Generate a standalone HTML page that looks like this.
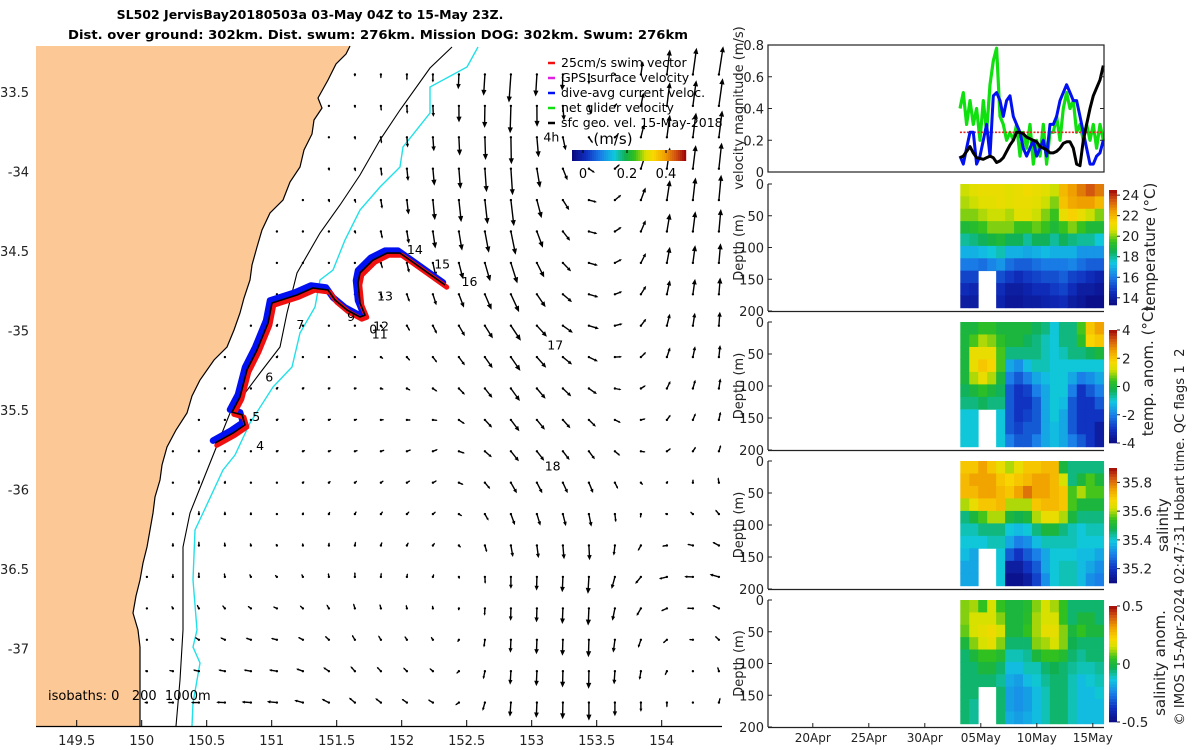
<!DOCTYPE html>
<html><head><meta charset="utf-8">
<style>
html,body{margin:0;padding:0;background:#fff;}
svg{display:block;font-family:"DejaVu Sans","Liberation Sans",sans-serif;}
</style></head>
<body>
<svg id="fig" xmlns="http://www.w3.org/2000/svg" width="1200" height="750" viewBox="0 0 1200 750">
<g font-weight="bold" font-size="12.5" text-anchor="middle" fill="#000">
<text x="310" y="19">SL502 JervisBay20180503a 03-May 04Z to 15-May 23Z.</text>
<text x="378" y="39" textLength="620" lengthAdjust="spacingAndGlyphs">Dist. over ground: 302km. Dist. swum: 276km. Mission DOG: 302km. Swum: 276km</text>
</g>
<g id="map"></g>
<g id="right"></g>
</svg>
<script>
// ---------------- DATA ----------------
const trackLon=[150.564,150.702,150.795,150.772,150.695,150.756,150.810,150.887,150.972,151.002,151.195,151.317,151.433,151.487,151.579,151.679,151.718,151.679,151.664,151.679,151.779,151.887,151.987,152.064,152.333];
const trackLat=[-35.708,-35.645,-35.594,-35.531,-35.513,-35.418,-35.248,-35.123,-34.953,-34.827,-34.777,-34.733,-34.745,-34.808,-34.871,-34.915,-34.903,-34.827,-34.701,-34.638,-34.557,-34.513,-34.513,-34.557,-34.714];
const dayLabels=["4","5","6","7","9","0","12","11","13","14","15","16","17","18","4h"];
const dayLabelLon=[150.88,150.85,150.95,151.19,151.58,151.75,151.78,151.77,151.81,152.04,152.25,152.46,153.12,153.10,153.09];
const dayLabelLat=[-35.75,-35.57,-35.32,-34.99,-34.94,-35.02,-35.00,-35.05,-34.81,-34.52,-34.61,-34.72,-35.12,-35.88,-33.81];
// coarse current field (cm/s), rows north->south, cols west->east
const fieldLon=[149.24,149.84,150.43,151.03,151.62,152.22,152.81,153.41,154.00,154.60];
const fieldLat=[-33.39,-34.18,-34.97,-35.76,-36.55,-37.34];
const fieldU=[
[0,0,0,0,0,0,-2,0,3,5],
[0,0,0,0,1,2,3,8,3,2],
[0,0,0,1,1,4,10,10,3,0],
[0,0,0,2,3,5,8,6,4,1],
[0,0,0,-2,0,1,0,-1,-8,-10],
[0,0,-8,-10,-6,-5,-1,0,0,2]];
const fieldV=[
[0,0,0,0,-2,-8,-28,-10,25,30],
[0,0,0,-1,-3,-20,-26,-2,20,28],
[0,0,0,2,0,-8,-15,-3,12,15],
[0,0,2,1,1,2,-10,-8,3,8],
[0,0,5,2,5,3,-12,-17,-2,5],
[0,0,0,1,5,3,-14,-18,-5,10]];
// velocity time series (m/s); time in May-days (1 = 01-May 00Z)
const velStart=3.14, velStep=0.2976;
const netGlider=[0.4,0.5,0.3,0.45,0.3,0.4,0.2,0.45,0.25,0.55,0.7,0.78,0.35,0.3,0.2,0.25,0.2,0.3,0.1,0.25,0.15,0.3,0.05,0.2,0.1,0.3,0.05,0.25,0.25,0.35,0.2,0.4,0.5,0.4,0.45,0.25,0.3,0.2,0.3,0.2,0.3,0.15,0.3,0.2];
const diveAvg=[0.1,0.05,0.15,0.25,0.25,0.05,0.1,0.2,0.3,0.1,0.48,0.5,0.45,0.35,0.45,0.48,0.35,0.3,0.25,0.15,0.1,0.15,0.2,0.1,0.15,0.2,0.1,0.3,0.3,0.35,0.45,0.5,0.55,0.5,0.45,0.45,0.35,0.25,0.15,0.05,0.05,0.1,0.12,0.2];
const sfcGeo=[0.09,0.1,0.13,0.16,0.12,0.09,0.085,0.08,0.09,0.1,0.09,0.06,0.07,0.09,0.13,0.17,0.2,0.25,0.25,0.24,0.22,0.21,0.2,0.19,0.16,0.15,0.14,0.12,0.12,0.13,0.15,0.18,0.19,0.19,0.15,0.05,0.04,0.2,0.3,0.4,0.48,0.53,0.58,0.67];
const swimSpeed=0.25;
const velTicks=[0,0.2,0.4,0.6,0.8];
const dateTicks=["20Apr","25Apr","30Apr","05May","10May","15May"];
const dateTickDays=[-10,-5,0,5,10,15];
const secStart=3.17, secStep=0.8;
const temperature=[
[20.5,20.8,21,21,21,20.8,21,21.2,21,20.8,20.5,22,22.5,23,23.5,23],
[20.3,20.5,20.8,20.8,21,20.8,21,21,20.8,20.5,20,21.8,22.3,22.5,22.5,22],
[20,20,20.3,20.5,20.5,20.3,20.8,20.8,20.5,20,19.5,21,21.5,21,20.5,20],
[19,19.2,19.5,20,20,20,19.5,19.5,19.8,19.5,19,19.5,20,19.5,19,19],
[18,18.2,18.5,18.8,19,18.5,18.5,18,18.5,18.5,18,18.5,18.2,18,18,17.5],
[17,17,17.2,17.5,17.8,17,17,16.8,17,17.2,17,17,17,16.5,16.5,16.5],
[16,16,15.8,16.2,16.5,15.8,15.5,15.5,15.8,16,16,16,16.2,15.8,15.5,15.5],
[15,15,null,null,15.2,14.8,14.5,14.8,15,15.2,15.2,15.5,15,14.8,14.5,14.2],
[14.5,14.3,null,null,14.5,14,14,14.2,14.5,14.5,14.8,15,14.5,14,14,13.8],
[14,14,null,null,14.2,13.8,13.8,14,14,14.2,14.3,14.5,14,13.8,13.5,13.5]];
const tempAnom=[
[0,0,0.3,0.3,0,0,0,0,-0.3,-0.5,-1,-0.5,-0.5,0.5,2,2.5],
[0,0.5,1,0.8,0.3,0,0,-0.3,-0.5,-0.8,-1,-0.5,-0.5,0.3,1.8,2],
[0,1.5,1.5,1.5,0.5,-0.5,-0.5,-0.5,-0.5,-0.8,-1,-0.8,-0.5,-0.5,-0.3,0],
[0,1.5,2,1.8,0.5,-1.5,-1.8,-1.2,-0.8,-0.8,-1,-1,-1,-1,-1,-1],
[0,1,1.5,1,0,-2,-2.5,-2,-1.5,-1.2,-1,-1,-1.5,-2,-1.8,-1.5],
[-0.3,0,0.3,0,-0.3,-2.5,-3,-2.8,-2,-1.5,-1,-1,-2,-3,-2.5,-2],
[-0.5,-0.5,-0.3,-0.5,-0.5,-2.5,-3,-3,-2.5,-1.5,-1,-1.2,-2.5,-3,-3,-2.5],
[-1,-1,null,null,-1,-2.5,-3,-2.8,-2.5,-1.5,-1,-1.5,-2.5,-3,-3,-3],
[-1,-1,null,null,-1,-2.5,-2.8,-2.5,-2.5,-1.5,-1.2,-1.5,-2.5,-3,-3,-3.5],
[-1,-1,null,null,-1,-2,-2.5,-2.5,-2,-1.5,-1.2,-1.5,-2,-2.5,-3,-3.5]];
const salinity=[
[35.7,35.7,35.75,35.7,35.65,35.6,35.65,35.7,35.7,35.72,35.72,35.5,35.45,35.45,35.45,35.45],
[35.72,35.75,35.75,35.75,35.7,35.68,35.7,35.72,35.75,35.75,35.72,35.62,35.45,35.5,35.55,35.5],
[35.72,35.72,35.75,35.75,35.72,35.7,35.75,35.8,35.75,35.75,35.72,35.7,35.55,35.6,35.55,35.55],
[35.6,35.65,35.7,35.7,35.72,35.6,35.6,35.6,35.7,35.72,35.72,35.7,35.55,35.5,35.5,35.5],
[35.45,35.5,35.55,35.6,35.6,35.5,35.48,35.5,35.6,35.65,35.65,35.6,35.5,35.45,35.45,35.45],
[35.42,35.42,35.45,35.45,35.45,35.4,35.38,35.4,35.45,35.5,35.5,35.45,35.42,35.4,35.42,35.42],
[35.4,35.4,35.4,35.42,35.42,35.35,35.3,35.32,35.38,35.42,35.42,35.42,35.42,35.4,35.4,35.4],
[35.38,35.35,null,null,35.4,35.25,35.2,35.25,35.3,35.35,35.4,35.4,35.4,35.38,35.38,35.35],
[35.35,35.35,null,null,35.4,35.15,35.15,35.2,35.25,35.35,35.4,35.42,35.42,35.38,35.35,35.32],
[35.35,35.35,null,null,35.4,35.12,35.12,35.15,35.22,35.32,35.4,35.42,35.42,35.38,35.32,35.3]];
const salAnom=[
[0.1,0.12,0.05,0.15,0.05,0,0,0.02,0.1,0.15,0.12,0.05,-0.05,-0.05,-0.05,-0.05],
[0.1,0.15,0.15,0.15,0.1,0,0,0.03,0.12,0.15,0.15,0.05,-0.05,0,0,-0.05],
[0.08,0.15,0.18,0.2,0.15,0,0,0.05,0.12,0.18,0.18,0.1,0,0.05,0,0],
[0,0.1,0.15,0.18,0.1,-0.05,-0.05,-0.05,0.1,0.12,0.15,0.1,-0.03,-0.05,-0.05,-0.05],
[-0.05,0,0.05,0.05,0.02,-0.1,-0.1,-0.08,0,0.05,0.05,0.02,-0.05,-0.08,-0.05,-0.05],
[-0.05,-0.05,0,0,-0.05,-0.15,-0.15,-0.1,-0.1,-0.05,-0.03,-0.05,-0.08,-0.1,-0.1,-0.08],
[-0.05,-0.05,-0.05,-0.05,-0.08,-0.18,-0.2,-0.15,-0.12,-0.08,-0.05,-0.05,-0.1,-0.15,-0.12,-0.1],
[-0.05,-0.05,null,null,-0.05,-0.2,-0.22,-0.2,-0.15,-0.1,-0.05,-0.05,-0.1,-0.15,-0.15,-0.12],
[-0.05,-0.08,null,null,-0.05,-0.2,-0.22,-0.2,-0.15,-0.1,-0.05,-0.05,-0.1,-0.15,-0.15,-0.15],
[-0.05,-0.08,null,null,-0.05,-0.18,-0.2,-0.18,-0.15,-0.1,-0.05,-0.05,-0.1,-0.15,-0.15,-0.15]];
const tempTicks=[14,16,18,20,22,24];
const tempAnomTicks=[-4,-2,0,2,4];
const salTicks=[35.2,35.4,35.6,35.8];
const salAnomTicks=[-0.5,0,0.5];
const depthTicks=[0,50,100,150,200];
const lonTicks=[149.5,150,150.5,151,151.5,152,152.5,153,153.5,154];
const latTicks=[-33.5,-34,-34.5,-35,-35.5,-36,-36.5,-37];

// ---------------- helpers ----------------
const NS="http://www.w3.org/2000/svg";
function mk(tag,attrs,parent){const e=document.createElementNS(NS,tag);for(const k in attrs)e.setAttribute(k,attrs[k]);parent.appendChild(e);return e;}
const xLon=lon=>141.7+(lon-150)*130;
const yLat=lat=>92+(-33.5-lat)*159;
const stops=[[0,[10,10,128]],[0.12,[16,48,192]],[0.25,[26,128,232]],[0.37,[16,200,224]],[0.47,[16,176,80]],[0.55,[48,192,32]],[0.65,[216,224,0]],[0.72,[248,216,0]],[0.82,[240,160,0]],[0.92,[208,80,16]],[1,[160,8,8]]];
function cmap(t){t=Math.max(0,Math.min(1,t));for(let i=1;i<stops.length;i++){if(t<=stops[i][0]){const a=stops[i-1],b=stops[i];const f=(t-a[0])/(b[0]-a[0]);const c=a[1].map((v,k)=>Math.round(v+(b[1][k]-v)*f));return `rgb(${c[0]},${c[1]},${c[2]})`;}}return 'rgb(160,8,8)';}

// ---------------- MAP ----------------
const map=document.getElementById('map');
const coast=[[350,46],[346,54],[336,64],[328,80],[318,98],[322,108],[314,120],[312,134],[304,150],[300,167],[290,182],[283,200],[270,213],[262,230],[257,247],[252,265],[250,280],[244,298],[240,313],[234,330],[227,347],[214,360],[200,380],[192,396],[187,413],[176,430],[167,447],[162,465],[160,480],[155,497],[153,513],[150,530],[147,547],[143,563],[140,580],[136,596],[133,613],[138,630],[140,647],[140,680],[140,726]];
let d='M36,46 '+coast.map(p=>'L'+p[0]+','+p[1]).join(' ')+' L36,726 Z';
const land=mk('path',{d:d,fill:'#fcc996',stroke:'none'},map);


const coastLine=mk('path',{d:'M'+coast.map(p=>p[0]+','+p[1]).join(' L'),fill:'none',stroke:'#000','stroke-width':1.2},map);


function coastX(y){for(let i=1;i<coast.length;i++){if(y<=coast[i][1]){const a=coast[i-1],b=coast[i];return a[0]+(b[0]-a[0])*(y-a[1])/(b[1]-a[1]);}}return 140;}
const iso200=[[452,47],[430,68],[400,110],[380,140],[360,175],[340,205],[320,233],[297,273],[287,313],[280,347],[260,373],[230,413],[210,463],[190,513],[183,547],[183,630],[180,680],[176,726]];
const iso1000=[[478,47],[467,67],[430,87],[430,113],[403,147],[400,167],[380,187],[360,210],[345,240],[333,270],[320,280],[315,307],[300,333],[292,367],[273,387],[250,423],[235,455],[223,470],[203,513],[195,530],[193,580],[197,630],[193,647],[200,663],[193,703],[192,726]];
const i2=mk('path',{d:'M'+iso200.map(p=>p.join(',')).join(' L'),fill:'none',stroke:'#000','stroke-width':1.1},map);


const i1=mk('path',{d:'M'+iso1000.map(p=>p.join(',')).join(' L'),fill:'none',stroke:'#22e0e8','stroke-width':1.4},map);



const arrows=mk('g',{},map);


function bil(arr,fx,fy){const i=Math.max(0,Math.min(arr[0].length-2,Math.floor(fx))),j=Math.max(0,Math.min(arr.length-2,Math.floor(fy)));const a=fx-i,b=fy-j;return arr[j][i]*(1-a)*(1-b)+arr[j][i+1]*a*(1-b)+arr[j+1][i]*(1-a)*b+arr[j+1][i+1]*a*b;}
let ap='',dots='';
const fx0=xLon(fieldLon[0]),fdx=(xLon(fieldLon[1])-fx0)/3;
const fy0=yLat(fieldLat[0]),fdy=(yLat(fieldLat[1])-fy0)/4;
for(let j=0;j<=20;j++){for(let i=0;i<=26;i++){
  const x=fx0+fdx*i,y=fy0+fdy*j;
  if(x<coastX(y)+6||y>722||x>720)continue;
  const u=bil(fieldU,i/3,j/4),v=bil(fieldV,i/3,j/4);
  const dx=u,dy=-v;const L=Math.hypot(dx,dy);
  dots+=`M${(x-1.2).toFixed(1)},${y.toFixed(1)}a1.2,1.2 0 1,0 2.4,0a1.2,1.2 0 1,0 -2.4,0`;
  if(L<2)continue;
  const ex=x+dx,ey=y+dy,ux=dx/L,uy=dy/L;const h=Math.min(6,L*0.35),w=Math.min(2.6,h*0.45);
  ap+=`M${x.toFixed(1)},${y.toFixed(1)}L${(ex-ux*h*0.6).toFixed(1)},${(ey-uy*h*0.6).toFixed(1)}`;
  dots+=`M${ex.toFixed(1)},${ey.toFixed(1)}L${(ex-ux*h-uy*w).toFixed(1)},${(ey-uy*h+ux*w).toFixed(1)}L${(ex-ux*h+uy*w).toFixed(1)},${(ey-uy*h-ux*w).toFixed(1)}Z`;
}}
mk('path',{d:ap,stroke:'#000','stroke-width':1.4,fill:'none'},arrows);
mk('path',{d:dots,fill:'#000',stroke:'none'},arrows);

const tr=trackLon.map((l,k)=>[xLon(l),yLat(trackLat[k])]);
const trackG=mk('g',{},map);


const tp=(ox,oy)=>'M'+tr.map(p=>(p[0]+ox).toFixed(1)+','+(p[1]+oy).toFixed(1)).join(' L');
mk('path',{d:tp(-2,-2.5),stroke:'#0010f0','stroke-width':6.5,fill:'none','stroke-linejoin':'round','stroke-linecap':'round'},trackG);
mk('path',{d:tp(1.8,2.2),stroke:'#f01010','stroke-width':5,fill:'none','stroke-linejoin':'round','stroke-linecap':'round'},trackG);
mk('path',{d:tp(0,0),stroke:'#000','stroke-width':1.6,fill:'none','stroke-linejoin':'round'},trackG);
const lbls=mk('g',{'font-size':12.5,fill:'#000'},map);


dayLabels.forEach((t,k)=>{const e=mk('text',{x:xLon(dayLabelLon[k]),y:yLat(dayLabelLat[k])},lbls);e.textContent=t;

});

const leg=mk('g',{'font-size':12.5,fill:'#000'},map);


const legItems=[["25cm/s swim vector","#f01010"],["GPS surface velocity","#e020e0"],["dive-avg current veloc.","#0010f0"],["net glider velocity","#10e010"],["sfc geo. vel. 15-May-2018","#000"]];
legItems.forEach((it,k)=>{const y=67+k*15;
 const m=mk('line',{x1:548,y1:y-4,x2:555,y2:y-4,stroke:it[1],'stroke-width':2.5},leg);
 
 
 const t=mk('text',{x:561,y:y},leg);t.textContent=it[0];
 
 });
const unit=mk('text',{x:613,y:144,'font-size':15,'text-anchor':'middle'},leg);unit.textContent='(m/s)';


for(let k=0;k<57;k++){mk('rect',{x:572+k*2,y:150,width:2.2,height:11,fill:cmap(k/56)},leg);}
[[0,583],[0.2,627],[0.4,666]].forEach(t=>{mk('line',{x1:t[1],y1:150,x2:t[1],y2:153,stroke:'#000'},leg);const e=mk('text',{x:t[1],y:178,'text-anchor':'middle','font-size':13},leg);e.textContent=String(t[0]);

});
const iso=mk('text',{x:48,y:700,'font-size':13},map);iso.textContent='isobaths: 0   200  1000m';
iso.style.whiteSpace='pre';



mk('line',{x1:36,y1:726.5,x2:722,y2:726.5,stroke:'#000','stroke-width':1.2},map);
const axg=mk('g',{'font-size':13,fill:'#222'},map);


lonTicks.forEach(l=>{const x=xLon(l);mk('line',{x1:x,y1:726,x2:x,y2:720,stroke:'#000'},axg);const e=mk('text',{x:x,y:745,'text-anchor':'middle'},axg);e.textContent=String(l);

});
latTicks.forEach(l=>{const y=yLat(l);const e=mk('text',{x:29,y:y+5,'text-anchor':'end'},axg);e.textContent=String(l);

});

// ---------------- RIGHT PANELS ----------------
const R=document.getElementById('right');
const X0=768,X1=1104;
const xDay=dMay=>768+(dMay+14)*11.2; // May-day; 16-Apr 00Z at left edge
const txt=(s,a,p,name)=>{const e=mk('text',a,p);e.textContent=s;return e;};

const vp=mk('g',{},R);


const vT=45,vB=172;const yVel=v=>vB-(v/0.8)*(vB-vT);
const ser=(arr,col,w,name)=>{const p=mk('path',{d:'M'+arr.map((v,k)=>xDay(velStart+k*velStep).toFixed(1)+','+yVel(v).toFixed(1)).join(' L'),fill:'none',stroke:col,'stroke-width':w,'stroke-linejoin':'round'},vp);};
ser(netGlider,'#10e010',3.2,'net-glider-velocity-line');
const sw=mk('line',{x1:xDay(velStart),y1:yVel(swimSpeed),x2:X1,y2:yVel(swimSpeed),stroke:'#f02020','stroke-width':1.6,'stroke-dasharray':'2,1.5'},vp);


ser(diveAvg,'#0010f0',3,'dive-avg-current-line');
ser(sfcGeo,'#000',3,'surface-geostrophic-velocity-line');
mk('rect',{x:X0,y:vT,width:X1-X0,height:vB-vT,fill:'none',stroke:'#222','stroke-width':1.2},vp);
velTicks.forEach(v=>{const y=yVel(v);mk('line',{x1:X0,y1:y,x2:X0+4,y2:y,stroke:'#222'},vp);mk('line',{x1:X1,y1:y,x2:X1-4,y2:y,stroke:'#222'},vp);
txt(String(v),{x:X0-4,y:y+5,'text-anchor':'end','font-size':13,fill:'#222'},vp,'velocity-tick-label');});
txt('velocity magnitude (m/s)',{x:0,y:0,transform:`translate(743,108) rotate(-90)`,'text-anchor':'middle','font-size':13,fill:'#222'},vp,'velocity-axis-title');

const panels=[
 {data:temperature,min:13.3,max:24.5,ticks:tempTicks,top:184,bot:311,cbT:190,cbB:305,label:'temperature (°C)',lx:1150,ly:247,name:'temperature'},
 {data:tempAnom,min:-4,max:4,ticks:tempAnomTicks,top:322,bot:450,cbT:330,cbB:443,label:'temp. anom. (°C)',lx:1148,ly:371,name:'temperature-anomaly'},
 {data:salinity,min:35.1,max:35.9,ticks:salTicks,top:461,bot:589,cbT:468,cbB:583,label:'salinity',lx:1163,ly:525,name:'salinity'},
 {data:salAnom,min:-0.5,max:0.5,ticks:salAnomTicks,top:600,bot:727,cbT:606,cbB:722,label:'salinity anom.',lx:1160,ly:663,name:'salinity-anomaly'}];
panels.forEach((P,pi)=>{
 const g=mk('g',{},R);
 
 
 const yD=dep=>P.top+dep/200*(P.bot-P.top);
 const cells=mk('g',{},g);
 
 
 P.data.forEach((row,r)=>row.forEach((v,c)=>{if(v===null)return;
   const xa=xDay(secStart+c*secStep),xb=xDay(secStart+(c+1)*secStep);
   mk('rect',{x:xa.toFixed(2),y:yD(r*19.5).toFixed(2),width:(xb-xa+0.4).toFixed(2),height:(yD(19.5)-yD(0)+0.4).toFixed(2),fill:cmap((v-P.min)/(P.max-P.min))},cells);}));
 mk('line',{x1:X0,y1:P.top,x2:X0,y2:P.bot,stroke:'#222','stroke-width':1.2},g);
 mk('line',{x1:X0,y1:P.bot+0.5,x2:X1,y2:P.bot+0.5,stroke:'#222','stroke-width':1.2},g);
 depthTicks.forEach(t=>{const y=yD(t);mk('line',{x1:X0,y1:y,x2:X0+4,y2:y,stroke:'#222'},g);
  txt(String(t),{x:X0-4,y:y+5,'text-anchor':'end','font-size':13,fill:'#222'},g,'depth-tick-label');});
 txt('Depth (m)',{x:0,y:0,transform:`translate(743,${(P.top+P.bot)/2}) rotate(-90)`,'text-anchor':'middle','font-size':13,fill:'#222'},g,'depth-axis-title');
 const cb=mk('g',{},g);
 
 
 const n=40,hh=(P.cbB-P.cbT)/n;
 for(let k=0;k<n;k++)mk('rect',{x:1109,y:(P.cbB-(k+1)*hh).toFixed(2),width:8,height:(hh+0.3).toFixed(2),fill:cmap((k+0.5)/n)},cb);
 const yC=v=>P.cbB-(v-P.min)/(P.max-P.min)*(P.cbB-P.cbT);
 P.ticks.forEach(t=>{const y=yC(t);mk('line',{x1:1117,y1:y,x2:1120,y2:y,stroke:'#222'},cb);
  txt(String(t),{x:1122,y:y+5,'font-size':13.5,fill:'#222'},cb,'colorbar-tick-label');});
 txt(P.label,{x:0,y:0,transform:`translate(${P.lx+5},${P.ly}) rotate(-90)`,'text-anchor':'middle','font-size':15,fill:'#222'},g,P.name+'-colorbar-title');
});
dateTicks.forEach((t,k)=>{const x=xDay(dateTickDays[k]);mk('line',{x1:x,y1:727,x2:x,y2:723,stroke:'#222'},R);
 txt(t,{x:x,y:742,'text-anchor':'middle','font-size':12,fill:'#222'},R,'date-tick-label');});
txt('© IMOS 15-Apr-2024 02:47:31 Hobart time. QC flags 1  2',{x:0,y:0,transform:'translate(1184,537) rotate(-90)','text-anchor':'middle','font-size':13,fill:'#222',textLength:377,lengthAdjust:'spacingAndGlyphs'},R,'copyright-note').style.whiteSpace='pre';
</script>
</body></html>
